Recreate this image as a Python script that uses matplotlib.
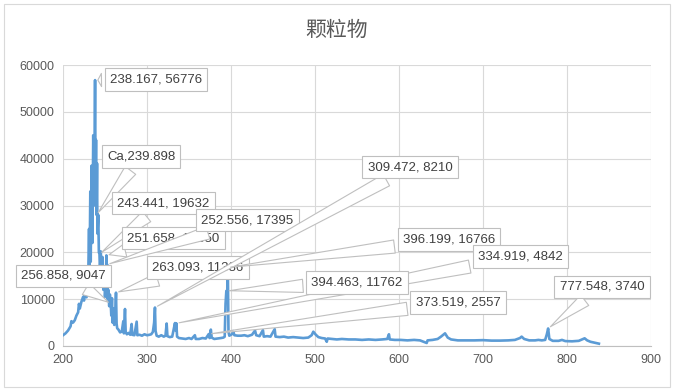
import matplotlib.pyplot as plt
from matplotlib.patches import Rectangle

plt.rcParams['font.family'] = ['Liberation Sans', 'Noto Sans CJK SC', 'DejaVu Sans']

# spectrum (wavelength nm, intensity)
wavelength = [
    200, 203, 206, 209, 210, 212, 214, 216, 218, 219, 220, 222, 224, 225, 226,
    228, 229, 230, 231, 231.6, 232.5, 233, 234, 235, 236, 237, 238.167, 238.8,
    239.3, 239.898, 240.5, 241, 242, 242.7, 243.441, 244, 245, 246, 247, 248,
    249, 250, 251, 251.658, 252.1, 252.556, 253.2, 254, 255, 255.8, 256.858,
    257.5, 258.3, 259, 260, 261, 262, 263.093, 263.8, 264.5, 266, 268, 270,
    271.8, 272.5, 273.8, 274.6, 276, 278, 280, 281.7, 282.5, 285, 287.7, 288.5,
    291, 294, 297, 300, 303, 305, 307, 308.5, 309.472, 310.2, 311.5, 314, 317,
    320, 322, 323.4, 324.3, 327, 330, 333.3, 334.1, 334.919, 335.8, 338, 342,
    346, 350, 353, 357, 358, 362, 366, 370, 373.519, 374.5, 376, 377, 380, 384,
    388, 391, 392.5, 393.5, 394.463, 395.3, 396.199, 397, 398, 401, 402.6, 404,
    408, 412, 416, 420, 425, 428.6, 430, 434, 438, 439, 443, 447, 452, 453, 458,
    463, 468, 474, 480, 486, 492, 496, 498, 501, 504, 508, 512, 514, 515, 520,
    526, 532, 540, 548, 556, 564, 572, 580, 586, 588, 589, 595, 602, 610, 618,
    625, 633, 634, 640, 646, 650, 654.8, 658, 662, 670, 680, 690, 700, 710, 720,
    730, 738, 744, 746, 749, 755, 762, 766, 770, 774, 776, 777.548, 779, 783,
    790, 794, 798, 806, 814, 818, 821, 824, 828, 833, 838,
]
intensity = [
    2300, 2700, 3300, 4200, 5300, 5000, 5500, 6500, 7200, 9000, 8000, 9500,
    10500, 9700, 11200, 10400, 12000, 14500, 25000, 15000, 33000, 18000, 38500,
    22000, 45000, 30000, 56776, 35000, 44000, 28000, 39000, 24000, 28000, 20000,
    19632, 16000, 20200, 13000, 19000, 12000, 15500, 10500, 13000, 19350, 11000,
    17395, 10000, 12000, 8500, 11000, 9047, 6500, 10200, 5000, 8000, 4500, 6000,
    11386, 4800, 3800, 3500, 2900, 3100, 5300, 2700, 7900, 3000, 2500, 2800,
    2400, 4700, 2400, 2300, 5200, 2300, 2400, 2200, 2500, 2300, 2400, 2500,
    3000, 5000, 8210, 3200, 2200, 2000, 2300, 2000, 2200, 4800, 2100, 1900,
    2000, 4900, 3300, 4842, 2000, 1700, 1600, 1500, 1700, 1500, 2300, 1500,
    1500, 1700, 1600, 2557, 1700, 3500, 1800, 1500, 1600, 1700, 1800, 2000,
    9000, 11762, 10000, 16766, 3000, 2200, 2500, 3200, 2300, 2200, 2200, 2300,
    2100, 2400, 3300, 2300, 2100, 3400, 2000, 2100, 2000, 3600, 2000, 1900,
    2000, 1800, 1900, 1800, 1700, 1800, 2300, 3050, 2400, 1900, 1700, 1600, 900,
    1600, 1500, 1400, 1500, 1400, 1400, 1300, 1400, 1300, 1400, 1500, 2500,
    1400, 1300, 1300, 1200, 1300, 1200, 640, 1200, 1300, 1500, 2000, 2700, 1800,
    1400, 1200, 1200, 1200, 1250, 1150, 1150, 1200, 1300, 1700, 2000, 1500,
    1200, 1200, 1300, 1200, 1300, 2500, 3740, 1500, 1100, 1100, 1300, 1050,
    1000, 1100, 1400, 1640, 1200, 900, 700, 500,
]

# data labels: text, point, box centre
label_text = [
    '238.167, 56776', 'Ca,239.898', '243.441, 19632', '251.658, 19350',
    '252.556, 17395', '263.093, 11386', '256.858, 9047', '309.472, 8210',
    '396.199, 16766', '334.919, 4842', '394.463, 11762', '373.519, 2557',
    '777.548, 3740',
]
label_x = [238.167, 239.898, 243.441, 251.658, 252.556, 263.093, 256.858,
           309.472, 396.199, 334.919, 394.463, 373.519, 777.548]
label_y = [56776, 28000, 19632, 19350, 17395, 11386, 9047,
           8210, 16766, 4842, 11762, 2557, 3740]
box_x = [310.7, 292.9, 319.6, 331.5, 419.6, 360.7, 200.5,
         613.1, 659.5, 744.6, 550.0, 670.2, 841.7]
box_y = [56960, 40470, 30510, 23020, 26870, 16810, 14990,
         38220, 22700, 19060, 13600, 9310, 12630]

fig = plt.figure(figsize=(6.74, 3.91), dpi=100)
ax = fig.add_axes([63 / 674, 1 - 346 / 391, 588 / 674, 281 / 391])

ax.plot(wavelength, intensity, color='#5b9bd5', linewidth=1.9,
        solid_joinstyle='round', zorder=2)

ax.set_xlim(200, 900)
ax.set_ylim(0, 60000)
ax.set_xticks(range(200, 901, 100))
ax.set_yticks(range(0, 60001, 10000))
ax.grid(True, color='#d9d9d9', linewidth=0.8)
ax.set_axisbelow(True)
for s in ['top', 'right', 'left']:
    ax.spines[s].set_visible(False)
ax.spines['bottom'].set_color('#bfbfbf')
ax.tick_params(length=0, labelsize=9, colors='#595959', pad=6)

for t, x, y, bx, by in zip(label_text, label_x, label_y, box_x, box_y):
    ax.annotate(t, xy=(x, y), xytext=(bx, by), textcoords='data',
                ha='center', va='center', fontsize=9.5, color='#404040',
                bbox=dict(boxstyle='square,pad=0.4', fc='white',
                          ec='#bfbfbf', lw=0.8),
                arrowprops=dict(arrowstyle='wedge,tail_width=1.0,shrink_factor=0.5',
                                fc='white', ec='#bfbfbf', lw=0.8),
                annotation_clip=False, zorder=4)

fig.text(0.5, 1 - 30 / 391, '颗粒物', ha='center', va='center', fontsize=15,
         color='#595959', family=['Noto Sans CJK SC', 'DejaVu Sans'])

fig.patches.append(Rectangle((4 / 674, 4 / 391), 666 / 674, 383 / 391,
                             transform=fig.transFigure, fill=False,
                             ec='#d9d9d9', lw=0.8))

fig.savefig('out.png', dpi=100)
